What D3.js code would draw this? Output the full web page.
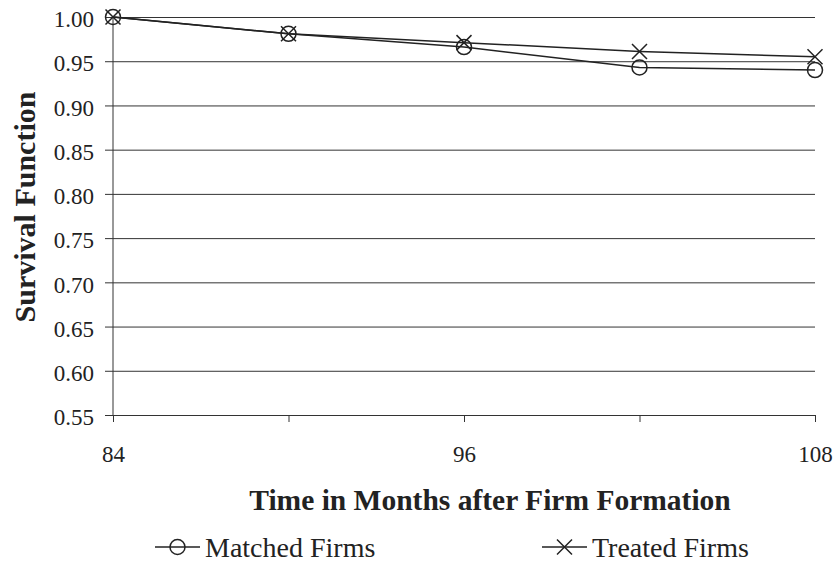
<!DOCTYPE html>
<html>
<head>
<meta charset="utf-8">
<script src="https://cdn.jsdelivr.net/npm/d3@7"></script>
<style>
  body { margin: 0; background: #fff; }
  text { font-family: "Liberation Serif", "Times New Roman", serif; fill: #222; }
</style>
</head>
<body>
<svg id="chart" width="837" height="568"></svg>
<script>
// survival data (months after formation)
const months = [84, 90, 96, 102, 108];
const matchedFirms = [1.000, 0.981, 0.966, 0.943, 0.940];
const treatedFirms = [1.000, 0.981, 0.971, 0.961, 0.955];
const yTicks = [0.55, 0.60, 0.65, 0.70, 0.75, 0.80, 0.85, 0.90, 0.95, 1.00];
const xTicks = [84, 90, 96, 102, 108];
const xLabels = [84, 96, 108];

const svg = d3.select('#chart');
const margin = { top: 17, right: 22, bottom: 153, left: 113 };
const width = 837 - margin.left - margin.right;
const height = 568 - margin.top - margin.bottom;

const g = svg.append('g').attr('transform', `translate(${margin.left},${margin.top})`);

const x = d3.scaleLinear().domain([84, 108]).range([0, width]);
const y = d3.scaleLinear().domain([0.55, 1.00]).range([height, 0]);

// horizontal gridlines + y axis
const yAxis = d3.axisLeft(y).tickValues(yTicks).tickFormat(d3.format('.2f')).tickSize(8).tickPadding(11);
const yg = g.append('g').call(yAxis);
yg.select('.domain').remove();
yg.selectAll('.tick line').attr('stroke', '#333').attr('x2', width).attr('x1', -8);
yg.selectAll('.tick text').attr('font-size', 23).attr('dy', '0.42em');
g.append('line').attr('x1', 0).attr('x2', 0).attr('y1', 0).attr('y2', height).attr('stroke', '#333');

// x axis
const xAxis = d3.axisBottom(x).tickValues(xTicks).tickSize(7).tickFormat(d => xLabels.includes(d) ? d : '').tickPadding(24);
const xg = g.append('g').attr('transform', `translate(0,${height})`).call(xAxis);
xg.select('.domain').attr('stroke', '#333');
xg.selectAll('.tick line').attr('stroke', '#333');
xg.selectAll('.tick text').attr('font-size', 23);

// lines
const line = d3.line().x((d, i) => x(months[i])).y(d => y(d));
g.append('path').datum(treatedFirms).attr('d', line).attr('fill', 'none').attr('stroke', '#222').attr('stroke-width', 1.5);
g.append('path').datum(matchedFirms).attr('d', line).attr('fill', 'none').attr('stroke', '#222').attr('stroke-width', 1.5);

// markers
const r = 7.5;
g.selectAll('.circ').data(matchedFirms).enter().append('circle')
  .attr('cx', (d, i) => x(months[i])).attr('cy', d => y(d)).attr('r', r)
  .attr('fill', 'none').attr('stroke', '#222').attr('stroke-width', 1.5);
const crossPath = (cx, cy, s) => `M${cx - s},${cy - s}L${cx + s},${cy + s}M${cx - s},${cy + s}L${cx + s},${cy - s}`;
g.selectAll('.cross').data(treatedFirms).enter().append('path')
  .attr('d', (d, i) => crossPath(x(months[i]), y(d), 7.5))
  .attr('stroke', '#222').attr('stroke-width', 1.5);

// axis titles
svg.append('text').attr('x', 490).attr('y', 510).attr('text-anchor', 'middle')
  .attr('font-size', 29.5).attr('font-weight', 'bold').text('Time in Months after Firm Formation');
svg.append('text').attr('transform', 'translate(35,207) rotate(-90)').attr('text-anchor', 'middle')
  .attr('font-size', 30).attr('font-weight', 'bold').text('Survival Function');

// legend
const legend = [
  { name: 'Matched Firms', x: 155, mark: 'circle' },
  { name: 'Treated Firms', x: 542, mark: 'cross' }
];
const ly = 547;
legend.forEach(l => {
  svg.append('line').attr('x1', l.x).attr('x2', l.x + 45).attr('y1', ly).attr('y2', ly).attr('stroke', '#222').attr('stroke-width', 1.5);
  if (l.mark === 'circle') {
    svg.append('circle').attr('cx', l.x + 22.5).attr('cy', ly).attr('r', 7.5).attr('fill', 'none').attr('stroke', '#222').attr('stroke-width', 1.5);
  } else {
    svg.append('path').attr('d', crossPath(l.x + 22.5, ly, 7.5)).attr('stroke', '#222').attr('stroke-width', 1.5);
  }
  svg.append('text').attr('x', l.x + 50).attr('y', ly + 10).attr('font-size', 28).text(l.name);
});
</script>
</body>
</html>
